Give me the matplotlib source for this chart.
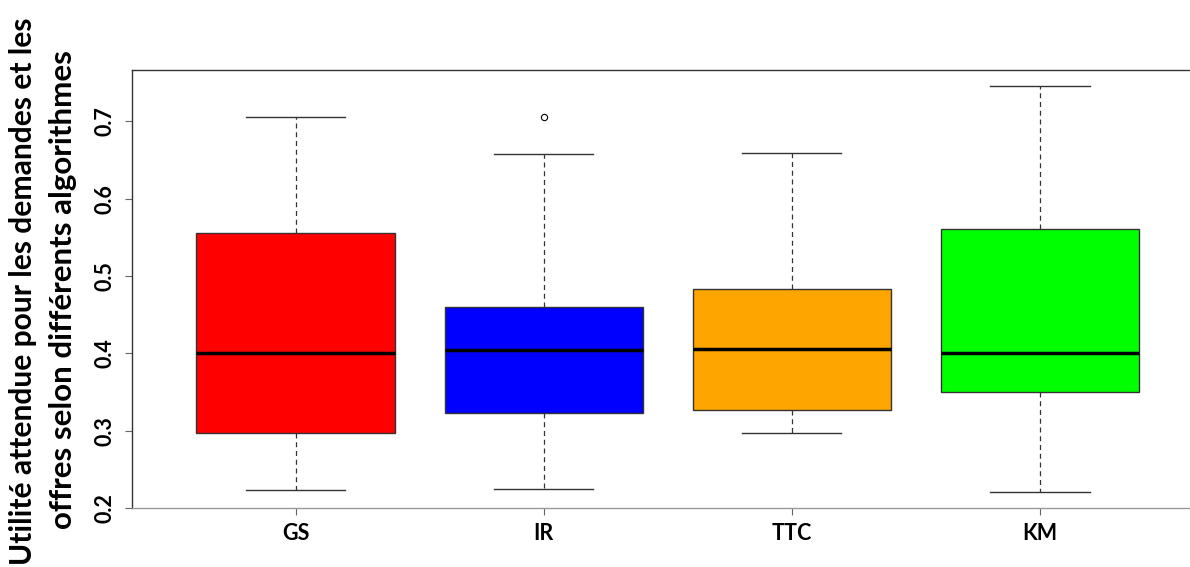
import matplotlib.pyplot as plt

algorithms = ["GS", "IR", "TTC", "KM"]
colors = ["#ff0000", "#0000ff", "#ffa500", "#00ff00"]
whisker_low = [0.223, 0.225, 0.297, 0.221]
q1 = [0.297, 0.3225, 0.327, 0.3505]
medians = [0.400, 0.404, 0.406, 0.401]
q3 = [0.556, 0.4596, 0.483, 0.5605]
whisker_high = [0.705, 0.658, 0.659, 0.746]
outliers = [[], [0.705], [], []]

plt.rcParams["font.family"] = ["Lato", "DejaVu Sans"]
plt.rcParams["font.weight"] = "bold"

fig = plt.figure(figsize=(11.9, 5.67), dpi=100)
ax = fig.add_axes([0.1109, 0.104, 0.9006, 0.772])

stats = []
for i, name in enumerate(algorithms):
    stats.append({
        "label": name, "whislo": whisker_low[i], "q1": q1[i], "med": medians[i],
        "q3": q3[i], "whishi": whisker_high[i], "fliers": outliers[i],
    })

parts = ax.bxp(
    stats, positions=range(1, len(stats) + 1), widths=0.8, patch_artist=True,
    boxprops=dict(edgecolor="#333333", linewidth=1.0),
    medianprops=dict(color="black", linewidth=2.5),
    whiskerprops=dict(color="#333333", linewidth=0.9, linestyle=(0, (4, 3))),
    capprops=dict(color="#333333", linewidth=1.0),
    flierprops=dict(marker="o", markersize=4.5, markerfacecolor="none",
                    markeredgecolor="black", markeredgewidth=0.8),
    capwidths=0.4,
)
for box, color in zip(parts["boxes"], colors):
    box.set_facecolor(color)

ax.set_xlim(0.34, 4.66)
ax.set_ylim(0.2, 0.766)
ax.set_yticks([0.2, 0.3, 0.4, 0.5, 0.6, 0.7])
ax.set_yticklabels(["0.2", "0.3", "0.4", "0.5", "0.6", "0.7"], rotation=90,
                   va="center", fontsize=15.5, fontweight="bold")
ax.set_xticks(range(1, 5))
ax.set_xticklabels(algorithms, fontsize=15.5, fontweight="bold")
ax.tick_params(axis="both", length=5, width=0.8, colors="#666666", labelcolor="black")
ax.tick_params(axis="y", pad=7)
ax.tick_params(axis="x", pad=6)

ax.spines["right"].set_visible(False)
ax.spines["left"].set_color("#333333")
ax.spines["top"].set_color("#333333")
ax.spines["bottom"].set_color("#999999")
for s in ax.spines.values():
    s.set_linewidth(1.0)

fig.text(0.0195, 0.486, "Utilité attendue pour les demandes et les", rotation=90,
         ha="center", va="center", fontsize=21.6, fontweight="bold")
fig.text(0.053, 0.49, "offres selon différents algorithmes", rotation=90,
         ha="center", va="center", fontsize=22.5, fontweight="bold")

fig.savefig("out.png", dpi=100)
